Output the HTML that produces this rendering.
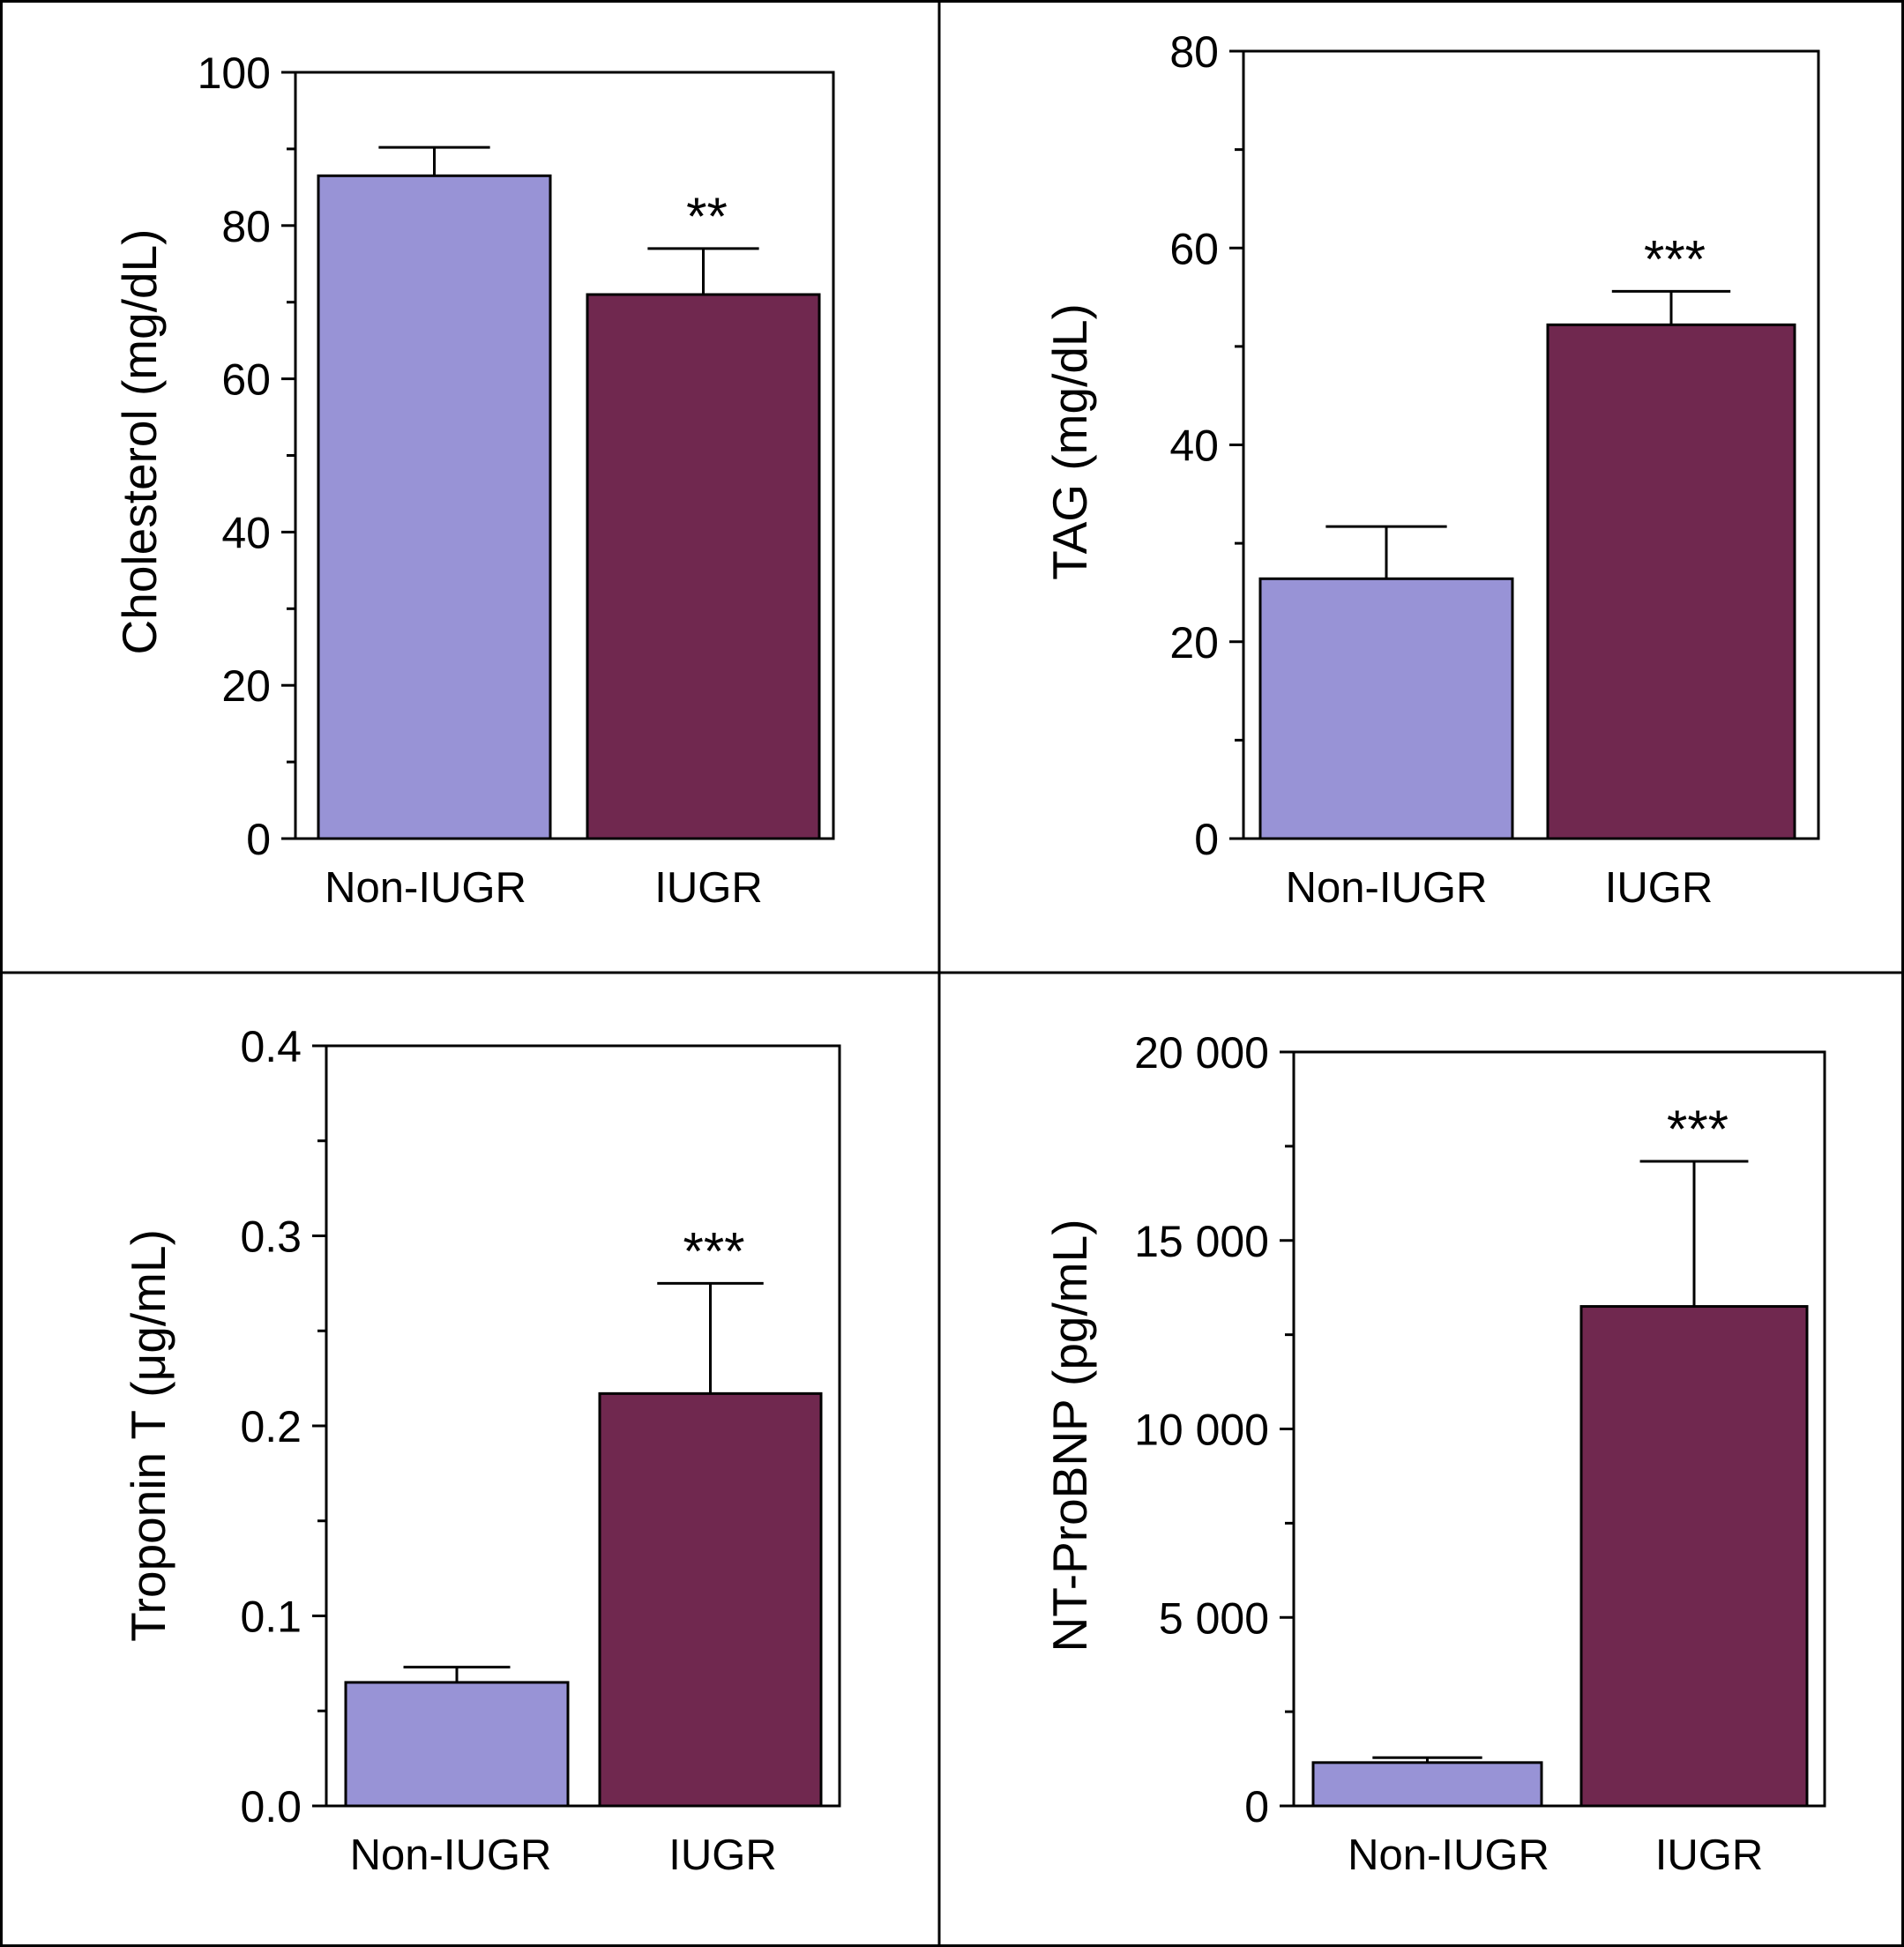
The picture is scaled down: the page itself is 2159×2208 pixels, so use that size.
<!DOCTYPE html>
<html><head><meta charset="utf-8"><style>
html,body{margin:0;padding:0;background:#fff}
svg{display:block;font-family:"Liberation Sans",Arial,sans-serif}
</style></head><body>
<svg id="fig" width="2159" height="2208" viewBox="0 0 2159 2208">
<rect x="1.5" y="1.5" width="2156" height="2205" fill="none" stroke="#000" stroke-width="3"/>
<line x1="1065" y1="0" x2="1065" y2="2208" stroke="#000" stroke-width="3"/>
<line x1="0" y1="1103" x2="2159" y2="1103" stroke="#000" stroke-width="3"/>
</svg>
<script>
const categories = ["Non-IUGR","IUGR"];
const cholMeans = [86.5, 71];
const cholErr = [3.7, 6];
const cholSig = ["", "**"];
const cholTicks = ["0","20","40","60","80","100"];
const tagMeans = [26.4, 52.2];
const tagErr = [5.3, 3.4];
const tagSig = ["", "***"];
const tagTicks = ["0","20","40","60","80"];
const tropMeans = [0.065, 0.217];
const tropErr = [0.008, 0.058];
const tropSig = ["", "***"];
const tropTicks = ["0.0","0.1","0.2","0.3","0.4"];
const bnpMeans = [1150, 13250];
const bnpErr = [130, 3850];
const bnpSig = ["", "***"];
const bnpTicks = ["0","5 000","10 000","15 000","20 000"];

const NS="http://www.w3.org/2000/svg";
const svg=document.getElementById('fig');
function mk(tag,attrs,parent){const e=document.createElementNS(NS,tag);for(const k in attrs)e.setAttribute(k,attrs[k]);(parent||svg).appendChild(e);return e;}

function panel(cfg,means,errs,sigs,ticks){
  const g=mk('g',{});
  
  
  const x0=cfg.x0,x1=cfg.x1,y0=cfg.y0,y1=cfg.y1,max=cfg.max;
  const y=v=>y1-(v/max)*(y1-y0);
  const n=ticks.length-1;
  for(let i=0;i<=2*n;i++){
    const v=max*i/(2*n), yy=y(v);
    const t=mk('line',{x1:x0-(i%2?10:16),x2:x0,y1:yy,y2:yy,stroke:'#000','stroke-width':3},g);
    
    
  }
  ticks.forEach((lab,i)=>{
    const t=mk('text',{x:x0-28,y:y(max*i/n)+18,'text-anchor':'end','font-size':50},g);
    t.textContent=lab;
    
    
  });
  means.forEach((m,i)=>{
    const bx=cfg.bars[i][0],bw=cfg.bars[i][1]-cfg.bars[i][0],cx=bx+bw/2;
    const top=y(m), et=y(m+errs[i]), ch=bw*0.24;
    const el=mk('line',{x1:cx,x2:cx,y1:top,y2:et,stroke:'#000','stroke-width':3},g);
    
    
    const cp=mk('line',{x1:cx-ch,x2:cx+ch,y1:et,y2:et,stroke:'#000','stroke-width':3},g);
    
    
    const r=mk('rect',{x:bx,y:top,width:bw,height:y1-top,fill:i?'#70284f':'#9893d6',stroke:'#000','stroke-width':3},g);
    
    
    if(sigs[i]){
      const s=mk('text',{x:cx+4,y:et-16,'text-anchor':'middle','font-size':60},g);
      s.textContent=sigs[i];
      
      
    }
    const c=mk('text',{x:cx+cfg.lo[i],y:y1+72,'text-anchor':'middle','font-size':49},g);
    c.textContent=categories[i];
    
    
  });
  const f=mk('rect',{x:x0,y:y0,width:x1-x0,height:y1-y0,fill:'none',stroke:'#000','stroke-width':3},g);
  
  
  const ax=mk('line',{x1:x0-16,x2:x0,y1:y1,y2:y1,stroke:'#000','stroke-width':3},g);
  
  
  const ty=cfg.ty;
  const tt=mk('text',{x:cfg.tx,y:ty,'text-anchor':'middle','font-size':55,transform:`rotate(-90 ${cfg.tx} ${ty})`},g);
  tt.textContent=cfg.title;
  
  
}

panel({name:'cholesterol-panel',x0:335,x1:945,y0:82,y1:951,max:100,bars:[[361,624],[666,929]],lo:[-10,6],tx:177,ty:501,title:'Cholesterol (mg/dL)'},cholMeans,cholErr,cholSig,cholTicks);
panel({name:'tag-panel',x0:1410,x1:2062,y0:58,y1:951,max:80,bars:[[1429,1715],[1755,2035]],lo:[0,-14],tx:1232,ty:501,title:'TAG (mg/dL)'},tagMeans,tagErr,tagSig,tagTicks);
panel({name:'troponin-panel',x0:370,x1:952,y0:1186,y1:2048,max:0.4,bars:[[392,644],[680,931]],lo:[-7,14],tx:187,ty:1628,title:'Troponin T (\u03bcg/mL)'},tropMeans,tropErr,tropSig,tropTicks);
panel({name:'ntprobnp-panel',x0:1467,x1:2069,y0:1193,y1:2048,max:20000,bars:[[1489,1748],[1793,2049]],lo:[24,17],tx:1232,ty:1628,title:'NT-ProBNP (pg/mL)'},bnpMeans,bnpErr,bnpSig,bnpTicks);
</script>
</body></html>
